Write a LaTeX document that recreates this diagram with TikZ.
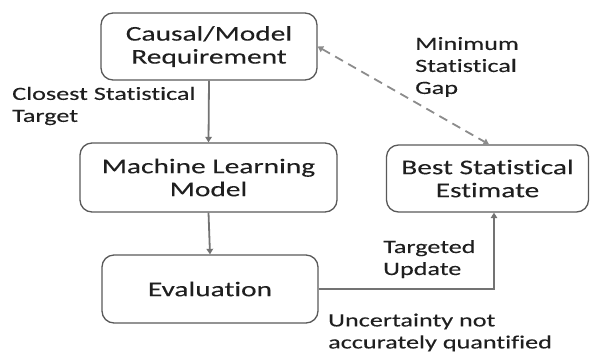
\documentclass[tikz,border=0pt]{standalone}
\usepackage{fontspec}
\setmainfont{Carlito}[FakeStretch=1.4,Ligatures=NoCommon,FakeBold=0.12]
\usetikzlibrary{arrows.meta}
\begin{document}
\begin{tikzpicture}[x=1pt,y=-1pt,
  box/.style={draw=black!65,line width=1.3pt,rounded corners=12pt,inner sep=0pt,align=center,
    font=\fontsize{21}{23}\selectfont,text=black!88},
  lbl/.style={inner sep=0pt,align=left,anchor=west,font=\fontsize{18.7}{22}\selectfont,text=black!88},
  conn/.style={draw=black!55,line width=1.8pt,-{Triangle[length=5.5pt,width=6.5pt]}},
  dconn/.style={draw=black!45,line width=1.8pt,dash pattern=on 9pt off 6pt,
    {Triangle[length=5.5pt,width=6.5pt]}-{Triangle[length=5.5pt,width=6.5pt]}}]
\useasboundingbox (0,0) rectangle (591,354);
\node[box,minimum width=216pt,minimum height=67pt] (b1) at (209,46.5) {Causal/Model\\Requirement};
\node[box,minimum width=257pt,minimum height=69pt] (b2) at (208.5,177.5) {Machine Learning\\Model};
\node[box,minimum width=216pt,minimum height=68pt] (b3) at (210,289) {Evaluation};
\node[box,minimum width=202pt,minimum height=67pt] (b4) at (487.5,178.5) {Best Statistical\\Estimate};
\draw[conn] (b1.south) -- (b2.north);
\draw[conn] (b2.south) -- (b3.north);
\draw[conn] (b3.east) -| ([xshift=6.5pt]b4.south);
\draw[dconn] (b1.east) -- ([xshift=1.5pt]b4.north);
\node[lbl] (l1) at (12,106) {Closest Statistical\\Target};
\node[lbl] (l2) at (415,67) {Minimum\\Statistical\\Gap};
\node[lbl] (l3) at (383,259) {Targeted\\Update};
\node[lbl] (l4) at (328,332.5) {Uncertainty not\\accurately quantified};
\end{tikzpicture}
\end{document}
